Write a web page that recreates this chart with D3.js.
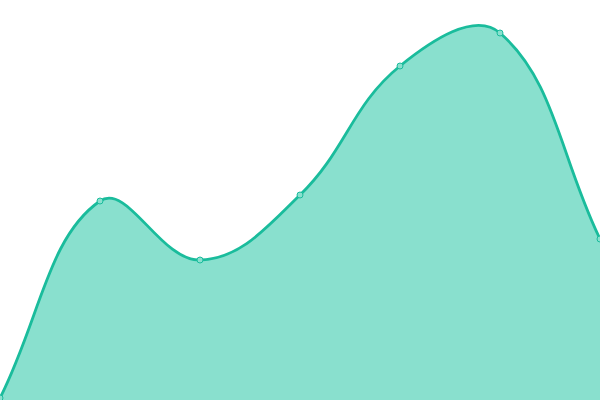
<!DOCTYPE html>
<html>
<head>
<meta charset="utf-8">
<script src="https://cdn.jsdelivr.net/npm/d3@7"></script>
<style>
  html, body { margin: 0; padding: 0; background: #fff; }
  svg { display: block; }
</style>
</head>
<body>
<svg class="chart" width="600" height="400"></svg>
<script>
// data (index along x, value up from bottom)
const labels = [0, 1, 2, 3, 4, 5, 6]
const values = [2, 199, 140, 205, 334, 367, 161]

const svg = d3.select("svg.chart")

const scaleX = d3.scaleLinear()
    .domain([0, labels.length - 1])
    .range([0, 600])

const scaleY = d3.scaleLinear()
    .domain([0, 400])
    .range([400, 0])

const data = labels.map((d, i) => ({ x: d, y: values[i] }))

// spline with distance weighted control points (tension 0.4),
// the ends get their handle pointed straight at the neighbour
const tension = 0.4
function splineCurve(context) {
    return {
        areaStart() { this._line = 0 },
        areaEnd() { this._line = NaN },
        lineStart() { this._pts = [] },
        point(x, y) { this._pts.push([+x, +y]) },
        lineEnd() {
            const p = this._pts
            const n = p.length
            if (n) {
                this._line ? context.lineTo(p[0][0], p[0][1]) : context.moveTo(p[0][0], p[0][1])
            }
            // control points for every point
            const cps = p.map((cur, i) => {
                const prev = p[Math.max(i - 1, 0)]
                const next = p[Math.min(i + 1, n - 1)]
                const d01 = Math.hypot(cur[0] - prev[0], cur[1] - prev[1])
                const d12 = Math.hypot(next[0] - cur[0], next[1] - cur[1])
                const sum = d01 + d12 || 1
                const fa = tension * d01 / sum
                const fb = tension * d12 / sum
                const dx = next[0] - prev[0], dy = next[1] - prev[1]
                return {
                    before: [cur[0] - fa * dx, cur[1] - fa * dy],
                    after: [cur[0] + fb * dx, cur[1] + fb * dy]
                }
            })
            for (let i = 0; i < n - 1; i++) {
                const a = cps[i].after, b = cps[i + 1].before
                context.bezierCurveTo(a[0], a[1], b[0], b[1], p[i + 1][0], p[i + 1][1])
            }
            if (this._line || (this._line !== 0 && n === 1)) context.closePath()
            this._line = 1 - this._line
        }
    }
}

const area = d3.area()
    .x(d => scaleX(d.x))
    .y0(scaleY(0))
    .y1(d => scaleY(d.y))
    .curve(splineCurve)

const line = d3.line()
    .x(d => scaleX(d.x))
    .y(d => scaleY(d.y))
    .curve(splineCurve)

svg.append("path")
    .datum(data)
    .attr("d", area)
    .attr("fill", "#89e0ce")

svg.append("path")
    .datum(data)
    .attr("d", line)
    .attr("fill", "none")
    .attr("stroke", "#1abc9c")
    .attr("stroke-width", 2.8)

svg.selectAll("circle.pt")
    .data(data)
    .enter()
    .append("circle")
    .attr("class", "pt")
    .attr("cx", d => scaleX(d.x))
    .attr("cy", d => scaleY(d.y))
    .attr("r", 3)
    .attr("fill", "#89e0ce")
    .attr("stroke", "#1abc9c")
    .attr("stroke-width", 1)
</script>
</body>
</html>
